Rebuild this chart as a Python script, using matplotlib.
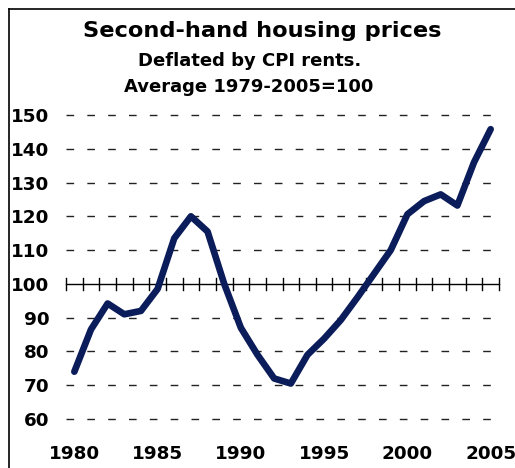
import matplotlib
matplotlib.use("Agg")
import matplotlib.pyplot as plt
from matplotlib.lines import Line2D

plt.rcParams['font.family'] = ['DejaVu Sans']

years = list(range(1980, 2006))
prices = [74, 86.5, 94.2, 91, 92, 98.5, 113.5, 120, 115.5, 100, 87, 79, 72,
          70.5, 79, 83.8, 89.3, 96, 103, 110, 120.6, 124.5, 126.5, 123.2, 136, 145.8]
y_ticks = [60, 70, 80, 90, 100, 110, 120, 130, 140, 150]
x_label_years = [1980, 1985, 1990, 1995, 2000, 2005]

title = "Second-hand housing prices"
subtitle1 = "Deflated by CPI rents."
subtitle2 = "Average 1979-2005=100"

W, H = 515, 468
fig = plt.figure(figsize=(W / 100, H / 100), dpi=100)
ax = fig.add_axes([66 / W, 49 / H, (499 - 66) / W, (353 - 49) / H])
ax.set_xlim(1979.5, 2005.5)
ax.set_ylim(60, 150)
for s in ax.spines.values():
    s.set_visible(False)

# dashed gridlines
for v in y_ticks:
    if v == 100:
        continue
    ax.plot([1979.5, 2005.5], [v, v], color='#222222', lw=1.0,
            dashes=(5.5, 9.5), clip_on=False, zorder=1)

# axis line at 100 with category ticks
ax.plot([1979.5, 2005.5], [100, 100], color='black', lw=1.0, zorder=2, clip_on=False)
for b in range(27):
    xb = 1979.5 + b
    ax.plot([xb, xb], [100 - 1.75, 100 + 1.75], color='black', lw=1.0, zorder=2, clip_on=False)

ax.plot(years, prices, color='#0b1c5a', lw=4.8, solid_capstyle='round',
        solid_joinstyle='round', zorder=3, clip_on=False)

ax.set_yticks(y_ticks)
ax.set_yticklabels([str(v) for v in y_ticks], fontsize=13.2, fontweight='bold')
ax.tick_params(axis='y', length=0, pad=12)
ax.set_xticks(x_label_years)
ax.set_xticklabels([str(v) for v in x_label_years], fontsize=13.2, fontweight='bold')
ax.tick_params(axis='x', length=0, pad=18.5)

fig.text(262 / W, 1 - 31 / H, title, ha='center', va='center', fontsize=16.2, fontweight='bold')
fig.text(250 / W, 1 - 61.5 / H, subtitle1, ha='center', va='center', fontsize=13, fontweight='bold')
fig.text(248.5 / W, 1 - 87 / H, subtitle2, ha='center', va='center', fontsize=13, fontweight='bold')

# frame lines (left and top)
fig.add_artist(Line2D([8.5 / W, 8.5 / W], [0, 1 - 8.5 / H], color='black', lw=1.2,
                      transform=fig.transFigure))
fig.add_artist(Line2D([8.5 / W, 1], [1 - 8.5 / H, 1 - 8.5 / H], color='black', lw=1.2,
                      transform=fig.transFigure))

fig.savefig("out.png", dpi=100)
